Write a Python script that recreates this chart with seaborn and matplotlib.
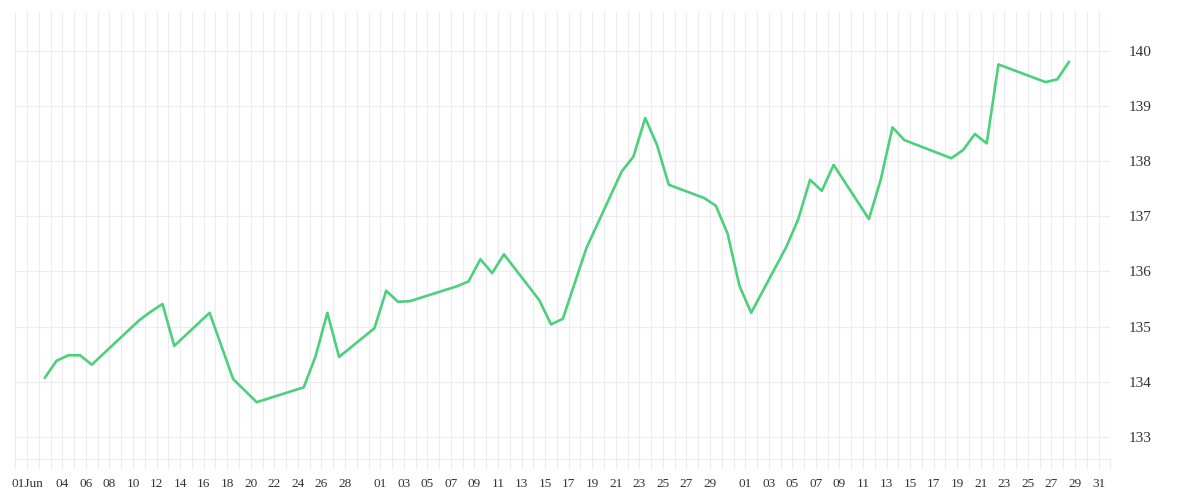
import pandas as pd
import seaborn as sns
from matplotlib import pyplot as plt

# Daily closes, summer 2025
dates = [
    "2025-06-02", "2025-06-03", "2025-06-04", "2025-06-05", "2025-06-06",
    "2025-06-10", "2025-06-11", "2025-06-12", "2025-06-13", "2025-06-16",
    "2025-06-18", "2025-06-20", "2025-06-24", "2025-06-25", "2025-06-26",
    "2025-06-27", "2025-06-30", "2025-07-01", "2025-07-02", "2025-07-03",
    "2025-07-07", "2025-07-08", "2025-07-09", "2025-07-10", "2025-07-11",
    "2025-07-14", "2025-07-15", "2025-07-16", "2025-07-18", "2025-07-21",
    "2025-07-22", "2025-07-23", "2025-07-24", "2025-07-25", "2025-07-28",
    "2025-07-29", "2025-07-30", "2025-07-31", "2025-08-01", "2025-08-04",
    "2025-08-05", "2025-08-06", "2025-08-07", "2025-08-08", "2025-08-11",
    "2025-08-12", "2025-08-13", "2025-08-14", "2025-08-18", "2025-08-19",
    "2025-08-20", "2025-08-21", "2025-08-22", "2025-08-26", "2025-08-27",
    "2025-08-28",
]
values = [
    134.07, 134.38, 134.48, 134.48, 134.31,
    135.11, 135.27, 135.41, 134.65, 135.25,
    134.05, 133.63, 133.90, 134.46, 135.25,
    134.45, 134.97, 135.65, 135.45, 135.46,
    135.73, 135.82, 136.22, 135.97, 136.31,
    135.48, 135.04, 135.14, 136.42, 137.81,
    138.08, 138.78, 138.29, 137.57, 137.33,
    137.19, 136.68, 135.74, 135.25, 136.45,
    136.95, 137.66, 137.46, 137.93, 136.95,
    137.66, 138.61, 138.38, 138.05, 138.20,
    138.49, 138.32, 139.75, 139.43, 139.48,
    139.80,
]

# labelled days on the x axis
tick_dates = (
    ["2025-06-%02d" % d for d in [1, 4, 6, 8, 10, 12, 14, 16, 18, 20, 22, 24, 26, 28]]
    + ["2025-07-%02d" % d for d in [1, 3, 5, 7, 9, 11, 13, 15, 17, 19, 21, 23, 25, 27, 29]]
    + ["2025-08-%02d" % d for d in [1, 3, 5, 7, 9, 11, 13, 15, 17, 19, 21, 23, 25, 27, 29, 31]]
)
tick_labels = (
    ["01Jun", "04", "06", "08", "10", "12", "14", "16", "18", "20", "22", "24", "26", "28"]
    + ["01", "03", "05", "07", "09", "11", "13", "15", "17", "19", "21", "23", "25", "27", "29"]
    + ["01", "03", "05", "07", "09", "11", "13", "15", "17", "19", "21", "23", "25", "27", "29", "31"]
)
y_ticks = [133, 134, 135, 136, 137, 138, 139, 140]

grid_col = "#ececec"
text_col = "#333333"

sns.set_theme(style="white")
plt.rcParams["font.family"] = ["Liberation Serif", "DejaVu Serif"]

df = pd.DataFrame({"date": pd.to_datetime(dates) + pd.Timedelta(hours=12), "close": values})

fig = plt.figure(figsize=(12, 5), dpi=100)
ax = fig.add_axes([0.01275, 0.083, 0.9125, 0.893])

sns.lineplot(data=df, x="date", y="close", ax=ax, color="#4cd07d", linewidth=1.9)

days = pd.date_range("2025-05-31", "2025-09-01", freq="D")
lab = dict(zip(pd.to_datetime(tick_dates), tick_labels))
ax.set_xticks(days)
ax.set_xticklabels([lab.get(d, "") for d in days])
ax.set_xlim(days[0], days[-1])

ax.set_ylim(132.61, 140.70)
ax.set_yticks(y_ticks)
ax.yaxis.tick_right()

ax.grid(True, color=grid_col, linewidth=0.8)
ax.set_axisbelow(True)
for s in ["top", "left", "right"]:
    ax.spines[s].set_visible(False)
ax.spines["bottom"].set_color(grid_col)
ax.spines["bottom"].set_linewidth(0.8)

ax.tick_params(axis="x", length=7.2, width=0.8, color=grid_col, pad=6.5,
               labelsize=9.5, labelcolor=text_col, bottom=True)
ax.tick_params(axis="y", length=0, pad=13, labelsize=11, labelcolor=text_col, right=True, left=False)
ax.set_xlabel("")
ax.set_ylabel("")

fig.savefig("out.png", dpi=100)
